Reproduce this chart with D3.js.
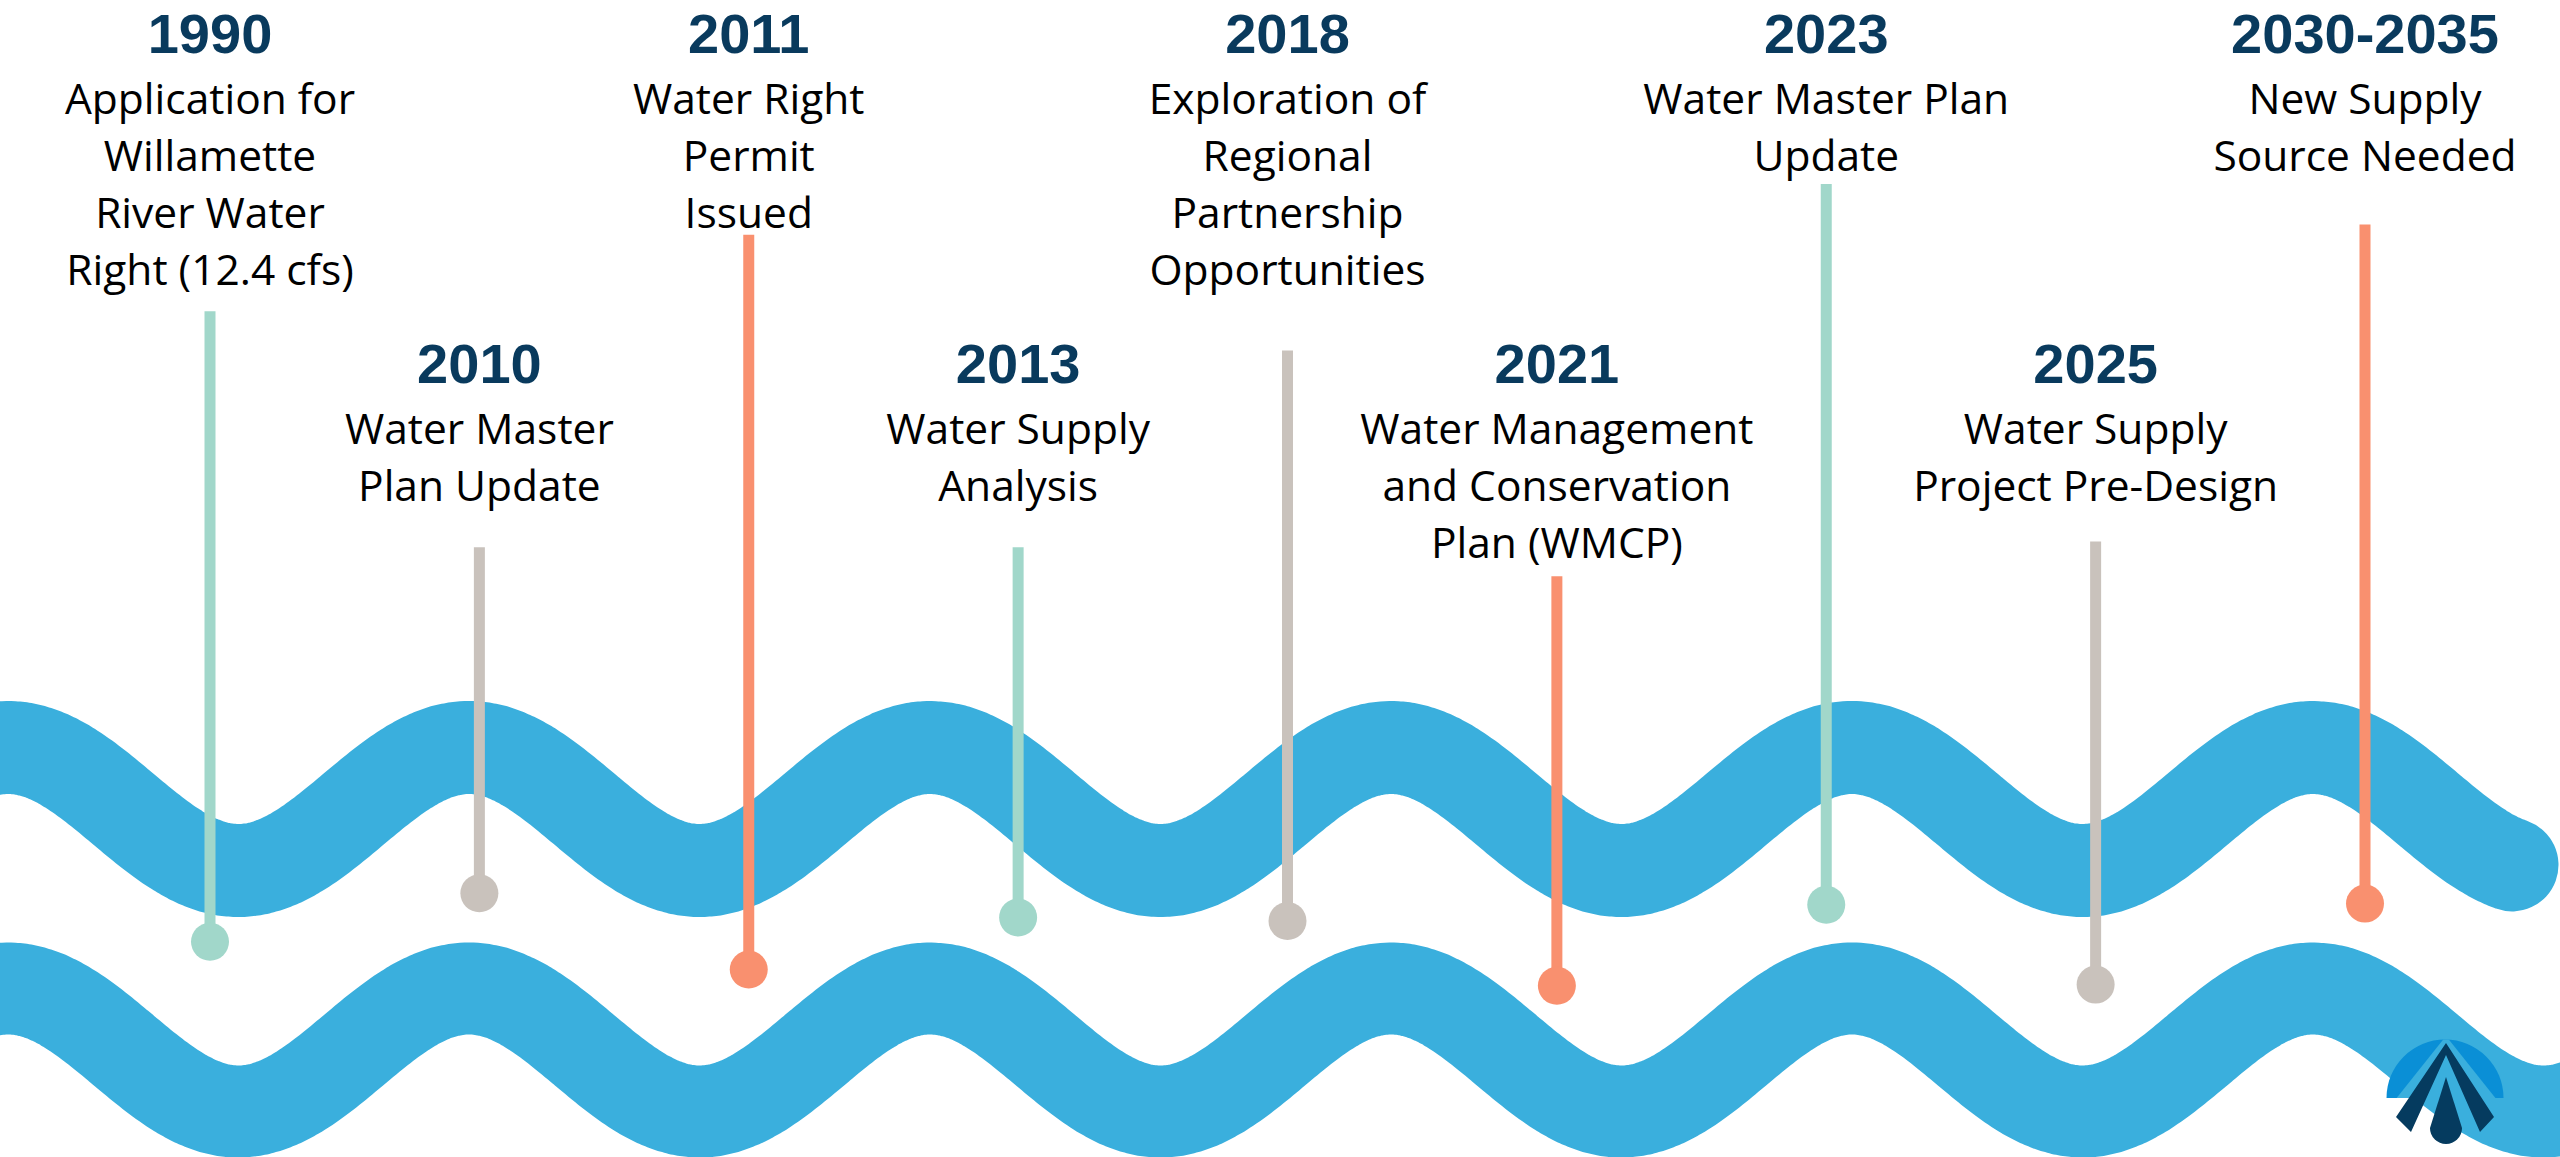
<!DOCTYPE html>
<html><head><meta charset="utf-8">
<script src="https://cdn.jsdelivr.net/npm/d3@7"></script>
<style>html,body{margin:0;padding:0;background:#fff;overflow:hidden}</style>
</head><body>
<svg id="chart" width="2560" height="1157"></svg>
<script>
// ---------- data ----------
const years = ["1990","2010","2011","2013","2018","2021","2023","2025","2030-2035"];
const descriptions = [
  ["Application for","Willamette","River Water","Right (12.4 cfs)"],
  ["Water Master","Plan Update"],
  ["Water Right","Permit","Issued"],
  ["Water Supply","Analysis"],
  ["Exploration of","Regional","Partnership","Opportunities"],
  ["Water Management","and Conservation","Plan (WMCP)"],
  ["Water Master Plan","Update"],
  ["Water Supply","Project Pre-Design"],
  ["New Supply","Source Needed"]
];
// lollipop stems: start and end depth (% of frame height)
const stemStart = [26.9, 47.3, 20.3, 47.3, 30.3, 49.8, 15.9, 46.8, 19.4];
const stemEnd   = [81.4, 77.2, 83.8, 79.3, 79.6, 85.2, 78.2, 85.1, 78.1];

// ---------- layout ----------
const W = 2560, H = 1157;
const svg = d3.select("#chart");
svg.append("rect").attr("width", W).attr("height", H).attr("fill", "#fff");

const x = d3.scalePoint().domain(years).range([210, 2365]);
const y = d3.scaleLinear().domain([0, 100]).range([0, H]);
const color = d3.scaleOrdinal().domain(years).range(["#A1D7CA", "#C9C2BC", "#F9906F"]);
const tierBaseline = d3.scaleOrdinal().domain([0, 1]).range([53, 383]);
const yearToFirstLine = 61, lineStep = 57;

// ---------- waves (decoration) ----------
const WAVE = "#3AAFDD", period = 461, crestX = 8, amp = 61.5;
function wave(cy, x0, x1) {
  const pts = d3.range(x0, x1 + 0.1, 3).map(v => [v, cy - amp * Math.cos(2 * Math.PI * (v - crestX) / period)]);
  return d3.line().curve(d3.curveBasis)(pts);
}
const gw = svg.append("g");
gw.append("path").attr("d", wave(809, -80, 2514))
  .attr("fill", "none").attr("stroke", WAVE).attr("stroke-width", 93).attr("stroke-linecap", "round");
gw.append("path").attr("d", wave(1050, -80, 2660))
  .attr("fill", "none").attr("stroke", WAVE).attr("stroke-width", 92).attr("stroke-linecap", "round");

// ---------- stems & dots ----------
const items = years.map((yr, i) => ({ yr, i, lines: descriptions[i], s: stemStart[i], e: stemEnd[i] }));
const gs = svg.append("g");
gs.selectAll("line").data(items).join("line")
  .attr("x1", d => x(d.yr)).attr("x2", d => x(d.yr))
  .attr("y1", d => y(d.s)).attr("y2", d => y(d.e))
  .attr("stroke", d => color(d.yr)).attr("stroke-width", 11);
gs.selectAll("circle").data(items).join("circle")
  .attr("cx", d => x(d.yr)).attr("cy", d => y(d.e)).attr("r", 19)
  .attr("fill", d => color(d.yr));

// ---------- labels ----------
const gt = svg.append("g").attr("text-anchor", "middle");
const lab = gt.selectAll("g").data(items).join("g")
  .attr("transform", d => `translate(${x(d.yr)},${tierBaseline(d.i % 2)})`);
lab.append("text").text(d => d.yr)
  .attr("font-family", "'Liberation Sans', Arial, sans-serif").attr("font-weight", 700)
  .attr("font-size", 56).attr("fill", "#093A5D");
lab.each(function(d) {
  d3.select(this).selectAll("text.desc").data(d.lines).join("text").attr("class", "desc")
    .attr("y", (t, j) => yearToFirstLine + j * lineStep)
    .attr("font-family", "'Open Sans', 'Noto Sans', sans-serif").attr("font-size", 42.5)
    .attr("fill", "#000").text(t => t);
});

// ---------- logo (decoration) ----------
const lg = svg.append("g");
const cx = 2445, rL = 58.5;
svg.append("defs").append("clipPath").attr("id", "discClip")
  .append("path").attr("d", `M${cx - rL},1098 A${rL},${rL} 0 1 1 ${cx + rL},1098 Z`);
lg.append("path").attr("d", `M${cx - rL},1098 A${rL},${rL} 0 1 1 ${cx + rL},1098 Z`)
  .attr("fill", "#0A8FD6");
lg.append("path").attr("clip-path", "url(#discClip)")
  .attr("d", `M${cx + 1},1036 L${cx + 52},1100 L${cx - 50},1100 Z`).attr("fill", WAVE);
lg.append("path").attr("d",
  `M${cx + 1},1043 L${cx + 49},1117 L${cx + 35},1132 L${cx + 1},1055 L${cx - 34},1132 L${cx - 49},1117 Z`)
  .attr("fill", "#053B5F");
lg.append("path").attr("d",
  `M${cx + 1},1077 L${cx - 15},1128 A16,16 0 0 0 ${cx + 17},1128 Z`).attr("fill", "#053B5F");
</script>
</body></html>
